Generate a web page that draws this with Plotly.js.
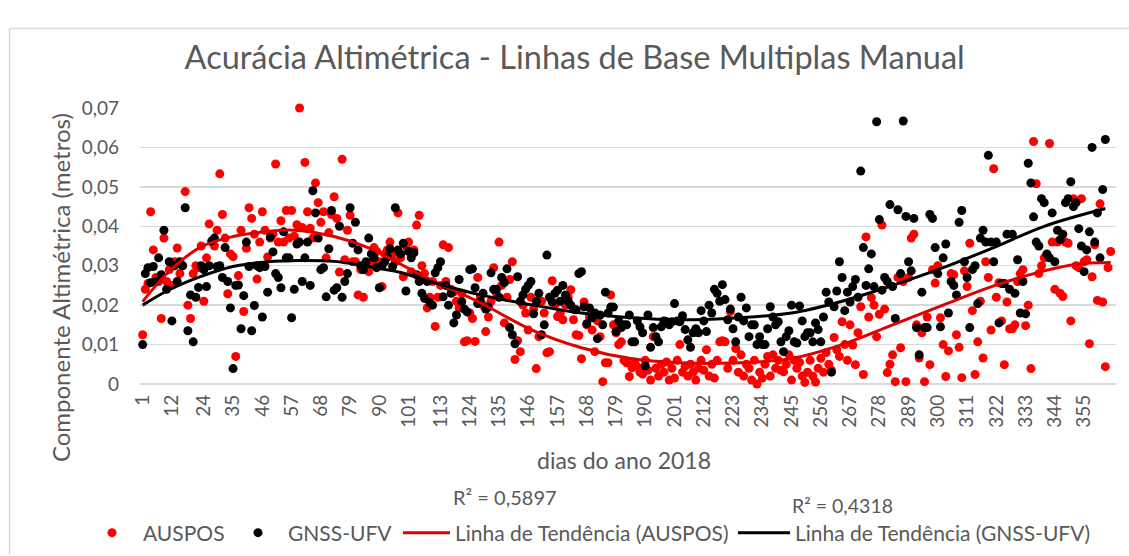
<!DOCTYPE html>
<html><head><meta charset="utf-8">
<script src="https://cdn.plot.ly/plotly-3.0.1.min.js"></script>
<style>html,body{margin:0;padding:0;background:#fff}#chart{width:1129px;height:556px}</style>
</head><body><div id="chart"></div>
<script>
// AUSPOS daily values (day 1 .. 365)
const auspos = [
0.0125,0.024,0.0255,0.0437,0.034,0.027,0.026,0.0166,0.037,0.026,
0.029,0.025,0.031,0.0345,0.028,0.030,0.0488,0.020,0.0166,0.028,
0.030,0.0295,0.035,0.021,0.032,0.0406,0.036,0.035,0.039,0.0533,
0.043,0.037,0.0229,0.033,0.0323,0.007,0.0275,0.039,0.0184,0.0344,
0.0447,0.042,0.038,0.0266,0.036,0.0437,0.039,0.0322,0.037,0.038,
0.0558,0.036,0.0414,0.036,0.044,0.037,0.044,0.0375,0.0404,0.070,
0.0397,0.0562,0.0437,0.0395,0.037,0.051,0.046,0.041,0.0437,0.032,
0.0384,0.043,0.0475,0.042,0.0284,0.057,0.0315,0.039,0.0428,0.031,
0.031,0.0226,0.029,0.022,0.030,0.0285,0.031,0.0346,0.0336,0.031,
0.0247,0.033,0.034,0.036,0.033,0.031,0.0434,0.032,0.0272,0.035,
0.036,0.0285,0.034,0.0403,0.0428,0.030,0.028,0.0193,0.022,0.026,
0.0146,0.022,0.025,0.0353,0.026,0.0346,0.024,0.0234,0.021,0.0193,
0.023,0.0107,0.011,0.018,0.0166,0.0108,0.027,0.022,0.020,0.0133,
0.017,0.021,0.0295,0.023,0.036,0.025,0.0155,0.022,0.0265,0.031,
0.0062,0.011,0.0082,0.020,0.018,0.0137,0.022,0.019,0.0039,0.012,
0.021,0.018,0.0079,0.0082,0.0262,0.020,0.0171,0.018,0.0163,0.020,
0.022,0.0239,0.0163,0.0125,0.0123,0.0064,0.0208,0.015,0.017,0.0137,
0.0082,0.016,0.012,0.0006,0.0054,0.0054,0.0226,0.015,0.013,0.010,
0.0107,0.006,0.0054,0.0019,0.0041,0.0056,0.0044,0.003,0.0025,0.006,
0.0035,0.001,0.012,0.004,0.002,0.005,0.003,0.0056,0.001,0.004,
0.0015,0.006,0.010,0.003,0.0045,0.002,0.005,0.003,0.001,0.004,
0.006,0.0035,0.0087,0.002,0.005,0.0015,0.006,0.0107,0.011,0.0107,
0.004,0.0184,0.006,0.009,0.003,0.0074,0.002,0.005,0.004,0.001,
0.006,0.000,0.003,0.0015,0.005,0.007,0.002,0.0074,0.004,0.006,
0.0035,0.0031,0.005,0.0074,0.001,0.006,0.004,0.0055,0.002,0.0004,
0.003,0.006,0.002,0.0005,0.004,0.0065,0.003,0.008,0.005,0.0035,
0.0118,0.0087,0.007,0.0158,0.010,0.006,0.015,0.0099,0.0049,0.013,
0.0196,0.0024,0.0373,0.017,0.0219,0.020,0.012,0.0177,0.0403,0.019,
0.0029,0.005,0.0074,0.0006,0.027,0.0092,0.026,0.0006,0.027,0.037,
0.038,0.015,0.0066,0.013,0.0006,0.017,0.0049,0.029,0.0256,0.030,
0.0168,0.010,0.0019,0.0084,0.028,0.0277,0.0125,0.0093,0.0016,0.0287,
0.0247,0.0357,0.0186,0.0024,0.0107,0.021,0.0066,0.031,0.027,0.0137,
0.0546,0.022,0.0257,0.016,0.0049,0.0208,0.014,0.014,0.015,0.026,
0.028,0.029,0.0148,0.020,0.0039,0.0615,0.0508,0.028,0.030,0.032,
0.0327,0.061,0.036,0.024,0.036,0.023,0.0222,0.036,0.0357,0.016,
0.047,0.030,0.0295,0.047,0.031,0.0315,0.0102,0.0272,0.0353,0.0212,
0.0457,0.0208,0.0044,0.0295,0.0336
];
// GNSS-UFV daily values (day 1 .. 363)
const gnssUfv = [
0.010,0.028,0.0295,0.0257,0.0298,0.026,0.032,0.0277,0.039,0.024,
0.031,0.016,0.030,0.026,0.031,0.030,0.0447,0.0135,0.0226,0.0107,
0.022,0.0245,0.030,0.029,0.0247,0.030,0.0363,0.037,0.0298,0.030,
0.027,0.0346,0.026,0.0193,0.0039,0.025,0.0251,0.014,0.0224,0.036,
0.0298,0.0135,0.0199,0.030,0.0295,0.017,0.0298,0.0233,0.0373,0.0335,
0.028,0.027,0.0244,0.0386,0.032,0.032,0.0168,0.024,0.0355,0.036,
0.026,0.032,0.036,0.025,0.049,0.0434,0.037,0.029,0.0295,0.0221,
0.0343,0.044,0.0238,0.0244,0.040,0.022,0.026,0.028,0.0447,0.0357,
0.041,0.034,0.030,0.029,0.031,0.037,0.033,0.032,0.0295,0.0244,
0.030,0.031,0.0322,0.0343,0.0298,0.0447,0.034,0.033,0.0357,0.0236,
0.0336,0.032,0.0333,0.0277,0.026,0.023,0.0217,0.026,0.0206,0.020,
0.0282,0.0295,0.031,0.0221,0.025,0.020,0.023,0.0155,0.0175,0.0265,
0.0209,0.019,0.0183,0.029,0.0292,0.0244,0.0204,0.021,0.023,0.019,
0.0195,0.0282,0.024,0.024,0.022,0.027,0.0257,0.0292,0.0143,0.0125,
0.0102,0.0272,0.021,0.0226,0.024,0.025,0.026,0.0178,0.021,0.023,
0.0125,0.015,0.0327,0.022,0.0208,0.023,0.0238,0.021,0.025,0.0226,
0.021,0.020,0.019,0.0188,0.028,0.0285,0.0196,0.0153,0.0193,0.0168,
0.018,0.0115,0.0175,0.015,0.0233,0.018,0.0195,0.0195,0.0133,0.016,
0.0143,0.015,0.015,0.0175,0.0107,0.0107,0.016,0.0145,0.013,0.0046,
0.0175,0.0093,0.0143,0.012,0.0107,0.0145,0.016,0.0158,0.015,0.0158,
0.0204,0.016,0.0158,0.0173,0.0138,0.0112,0.0093,0.013,0.014,0.013,
0.0186,0.016,0.0133,0.020,0.018,0.024,0.023,0.021,0.0252,0.0214,
0.0163,0.019,0.014,0.0107,0.017,0.022,0.016,0.0193,0.012,0.015,
0.015,0.010,0.012,0.010,0.010,0.014,0.0196,0.017,0.015,0.0158,
0.0107,0.0082,0.012,0.0135,0.020,0.0107,0.0104,0.0198,0.016,0.012,
0.013,0.013,0.0107,0.0155,0.0138,0.0107,0.017,0.0233,0.0208,0.003,
0.0196,0.0236,0.031,0.027,0.0186,0.0233,0.0208,0.0247,0.0265,0.022,
0.054,0.0346,0.025,0.0292,0.033,0.0247,0.0665,0.0417,0.0238,0.027,
0.026,0.0455,0.0247,0.0166,0.0442,0.028,0.0667,0.0425,0.031,0.0287,
0.042,0.0143,0.0074,0.0233,0.0143,0.0143,0.043,0.042,0.0346,0.028,
0.0145,0.032,0.0355,0.018,0.026,0.025,0.0226,0.041,0.044,0.031,
0.027,0.0143,0.029,0.030,0.0204,0.037,0.039,0.036,0.058,0.036,
0.031,0.036,0.0155,0.0255,0.0255,0.038,0.024,0.038,0.023,0.0315,
0.018,0.026,0.0178,0.056,0.051,0.0424,0.036,0.035,0.047,0.046,
0.033,0.032,0.0434,0.031,0.039,0.0366,0.038,0.046,0.047,0.0513,
0.045,0.046,0.0394,0.035,0.0285,0.034,0.0386,0.060,0.036,0.0434,
0.032,0.0493,0.062
];
// Trendlines
const trendDaysAuspos = [1,11,23,35,48,58,73,86,109,128,147,166,185,203,222,245,264,283,302,321,340,352,365];
const trendAuspos     = [0.0209,0.0286,0.0348,0.0374,0.0387,0.0390,0.0374,0.0345,0.0265,0.0206,0.0138,0.0092,0.0064,0.0054,0.0053,0.0065,0.0100,0.0150,0.0200,0.0249,0.0287,0.0304,0.0308];
const trendDaysGnss   = [1,11,23,35,48,60,73,86,98,109,128,147,166,185,203,222,245,264,283,302,321,340,363];
const trendGnss       = [0.0200,0.0239,0.0273,0.0298,0.0310,0.0313,0.0311,0.0298,0.0283,0.0260,0.0226,0.0201,0.0180,0.0168,0.0163,0.0167,0.0180,0.0210,0.0250,0.0295,0.0346,0.0400,0.0445];

const tickDays = [1,12,24,35,46,57,68,79,90,101,113,124,135,146,157,168,179,190,201,212,223,234,245,256,267,278,289,300,311,322,333,344,355];
const yTickVals = [0,0.01,0.02,0.03,0.04,0.05,0.06,0.07];
const yTickText = ['0','0,01','0,02','0,03','0,04','0,05','0,06','0,07'];
const r2Auspos = 'R² = 0,5897';
const r2Gnss = 'R² = 0,4318';

const daysOf = arr => arr.map((_, i) => i + 1);
const FONT = 'Lato, "Open Sans", sans-serif';
const GREY = '#595959';
const W = 1129, H = 556;
const legY = 1 - 533 / H;
const legendAt = (leftPx, iw) => ({
  orientation:'h', xref:'container', yref:'container', x:leftPx / W, xanchor:'left', y:legY, yanchor:'middle',
  itemwidth:iw, font:{size:21, color:GREY, family:FONT}, bgcolor:'rgba(0,0,0,0)', borderwidth:0
});

const traces = [
  {type:'scatter', mode:'markers', name:'AUSPOS', x:daysOf(auspos), y:auspos, cliponaxis:false,
   marker:{color:'#FF0000', size:9}, legend:'legend'},
  {type:'scatter', mode:'markers', name:'GNSS-UFV', x:daysOf(gnssUfv), y:gnssUfv, cliponaxis:false,
   marker:{color:'#000000', size:9}, legend:'legend2'},
  {type:'scatter', mode:'lines', name:'Linha de Tendência (AUSPOS)', x:trendDaysAuspos, y:trendAuspos,
   line:{color:'#E00000', width:3, shape:'spline', smoothing:1}, legend:'legend3'},
  {type:'scatter', mode:'lines', name:'Linha de Tendência (GNSS-UFV)', x:trendDaysGnss, y:trendGnss,
   line:{color:'#000000', width:3, shape:'spline', smoothing:1}, legend:'legend4'}
];

const layout = {
  width:W, height:H,
  margin:{l:140, r:13, t:108, b:172},
  paper_bgcolor:'#fff', plot_bgcolor:'#fff',
  font:{family:FONT, color:GREY, size:19},
  title:{text:'Acurácia Altimétrica - Linhas de Base Multiplas Manual', font:{family:FONT, size:32.5, color:GREY},
         x:0.509, xanchor:'center', y:0.897, yanchor:'middle'},
  xaxis:{range:[0,367], tickmode:'array', tickvals:tickDays, ticktext:tickDays.map(String), tickangle:-90,
         showgrid:false, zeroline:false, showline:false, ticks:'', ticklabelstandoff:6,
         tickfont:{size:19, color:GREY}, fixedrange:true},
  yaxis:{range:[0,0.07], tickmode:'array', tickvals:yTickVals, ticktext:yTickText,
         showgrid:true, gridcolor:'#D9D9D9', gridwidth:1.5, zeroline:true, zerolinecolor:'#D9D9D9', zerolinewidth:1.5,
         showline:false, ticks:'', ticklabelstandoff:20, tickfont:{size:19, color:GREY}, fixedrange:true},
  showlegend:true,
  legend:legendAt(81, 52),
  legend2:legendAt(228, 50),
  legend3:legendAt(398, 47),
  legend4:legendAt(733, 52),
  annotations:[
    {text:'Componente Altimétrica (metros)', xref:'paper', yref:'paper', x:-0.082, y:0.351, textangle:-90,
     showarrow:false, xanchor:'center', yanchor:'middle', font:{size:24, color:GREY}},
    {text:'dias do ano 2018', xref:'paper', yref:'paper', x:0.496, y:-0.275,
     showarrow:false, xanchor:'center', yanchor:'middle', font:{size:23, color:GREY}},
    {text:r2Auspos, xref:'paper', yref:'paper', x:0.374, y:-0.409,
     showarrow:false, xanchor:'center', yanchor:'middle', font:{size:20, color:GREY}},
    {text:r2Gnss, xref:'paper', yref:'paper', x:0.720, y:-0.442,
     showarrow:false, xanchor:'center', yanchor:'middle', font:{size:19.5, color:GREY}}
  ],
  shapes:[
    {type:'line', xref:'paper', yref:'paper', x0:-0.1337, x1:-0.1337, y0:1.288, y1:-0.62, line:{color:'#D9D9D9', width:1.5}},
    {type:'line', xref:'paper', yref:'paper', x0:-0.1337, x1:1.02, y0:1.288, y1:1.288, line:{color:'#D9D9D9', width:1.5}}
  ]
};

Plotly.newPlot('chart', traces, layout, {displayModeBar:false, staticPlot:true});
</script>
</body></html>
